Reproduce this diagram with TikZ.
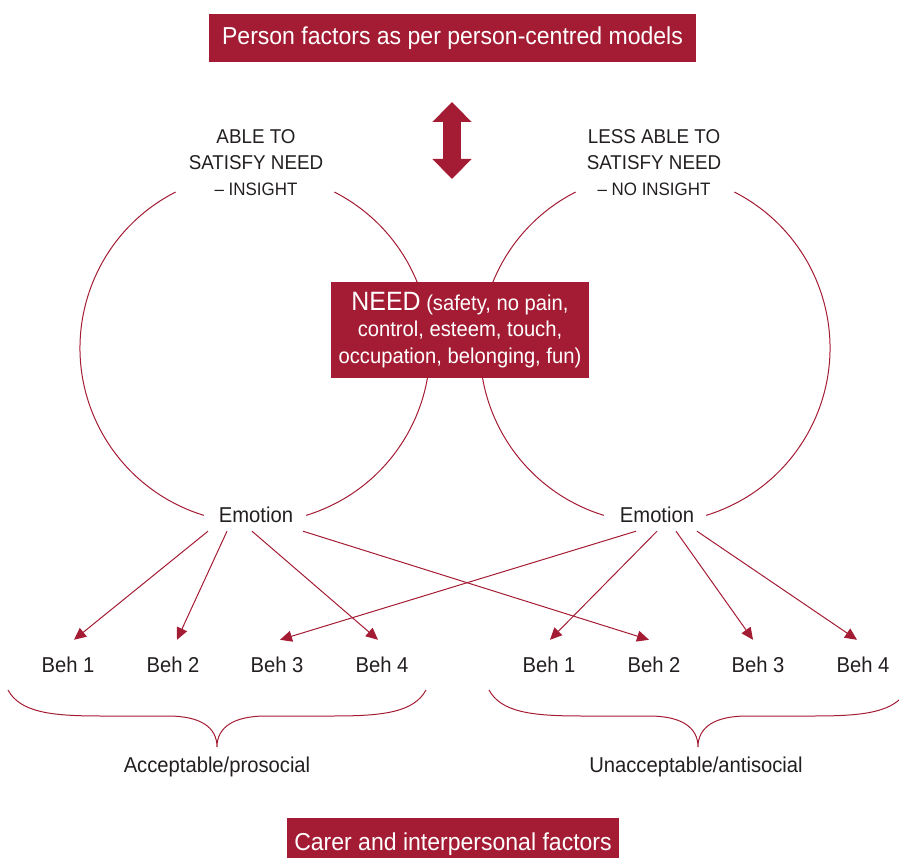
\documentclass[tikz,border=0pt]{standalone}
\usepackage{fontspec}
\setmainfont{Liberation Sans}[FakeStretch=0.94]
\usepackage{tikz}
\usetikzlibrary{arrows.meta,positioning,calc}
\definecolor{needred}{RGB}{164,28,52}
\definecolor{inkgray}{RGB}{35,31,32}
\tikzset{
  banner/.style={rectangle,fill=needred,text=white,inner sep=0pt,font=\fontsize{24.5}{29}\selectfont},
  plain/.style={text=inkgray,inner sep=0pt,font=\fontsize{21.5}{26}\selectfont},
  ring/.style={line width=1pt,draw=needred},
  arr/.style={-{Triangle[length=12pt,width=11pt]},line width=1pt,draw=needred},
  bigbrace/.style={line width=1pt,draw=needred}
}

\begin{document}
\begin{tikzpicture}[
  x=1pt,y=1pt,
  behnode/.style={plain,minimum height=50pt},
  emonode/.style={plain,minimum width=97pt,minimum height=32pt},
  capsline/.style={plain,align=center,font=\fontsize{20}{26}\selectfont}
]
\useasboundingbox (0,0) rectangle (899,857);

\node[banner,minimum width=487pt,minimum height=48pt] (personbar) at (452.5,819)
  {Person factors as per person-centred models};

% the two rings
\coordinate (ringL) at (255,509);
\coordinate (ringR) at (655,509);
\foreach \r in {ringL,ringR}{
  \draw[ring] ($(\r)+(117:175)$) arc[start angle=117,end angle=253,radius=175];
  \draw[ring] ($(\r)+(-73:175)$) arc[start angle=-73,end angle=63,radius=175];
}

\node[banner,minimum width=258pt,minimum height=96pt,align=center,
  font=\fontsize{21.5}{26.5}\selectfont] (need) at (460,527)
  {{\fontsize{26.5}{26.5}\selectfont NEED} (safety, no pain,\\control, esteem, touch,\\occupation, belonging, fun)};

\coordinate (updownTop) at (452,755);
\coordinate (updownBot) at (452,678);
\draw[line width=18pt,draw=needred,
  {Triangle[length=20pt,width=38pt]}-{Triangle[length=20pt,width=38pt]}]
  (updownBot) -- (updownTop);

\node[capsline] (ableL) at (256,694)
  {ABLE TO\\SATISFY NEED\\{\fontsize{18}{24}\selectfont – INSIGHT}};
\node[capsline] (ableR) at (654,694)
  {LESS ABLE TO\\SATISFY NEED\\{\fontsize{18}{24}\selectfont – NO INSIGHT}};

\node[emonode] (emoL) at (256,342) {Emotion};
\node[emonode] (emoR) at (657,342) {Emotion};

\foreach \n/\x/\lab in {behLa/68/1,behLb/173/2,behLc/277/3,behLd/382/4,
                        behRa/549/1,behRb/654/2,behRc/758/3,behRd/863/4}{
  \node[behnode] (\n) at (\x,192) {Beh \lab};
}

\foreach \f/\fx/\t/\tx in {emoL/-48/behLa/6,emoL/-29/behLb/4,emoL/-4/behLd/-4,
                           emoL/47/behRb/-5,emoR/-21/behLc/3,emoR/0/behRa/1,
                           emoR/19/behRc/-5,emoR/40/behRd/-6}{
  \draw[arr] ([xshift=\fx pt]\f.south) -- ([xshift=\tx pt]\t.north);
}

% braces under the behaviours
\foreach \c in {217,698}{
  \draw[bigbrace] (\c-209,167) .. controls (\c-197,145) and (\c-167,141) .. (\c-117,141)
    -- (\c-49,141) .. controls (\c-17,141) and (\c,130) .. (\c,110)
    .. controls (\c,130) and (\c+17,141) .. (\c+49,141)
    -- (\c+117,141) .. controls (\c+167,141) and (\c+197,145) .. (\c+209,167);
}

\node[plain] (okLabel) at (217,90) {Acceptable/prosocial};
\node[plain] (badLabel) at (696,90) {Unacceptable/antisocial};

\node[banner,minimum width=332pt,minimum height=52pt] (carerbar) at (453,13)
  {Carer and interpersonal factors};

\end{tikzpicture}
\end{document}
